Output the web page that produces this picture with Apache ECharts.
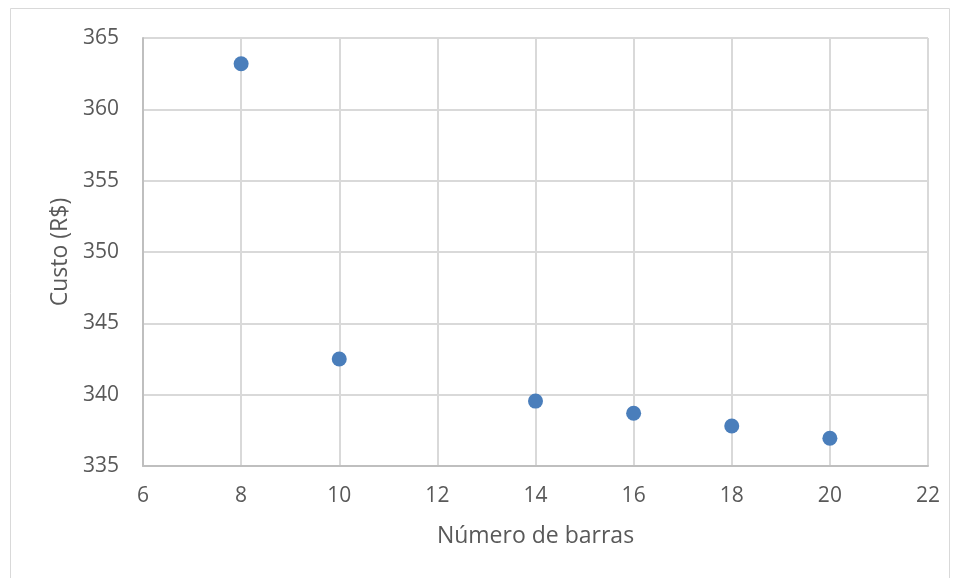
<!DOCTYPE html>
<html><head><meta charset="utf-8">
<script src="https://cdn.jsdelivr.net/npm/echarts@6/dist/echarts.min.js"></script>
<style>html,body{margin:0;padding:0;background:#fff}#c{width:958px;height:578px}</style>
</head><body><div id="c"></div>
<script>
const xValues = [8, 10, 14, 16, 18, 20];
const yValues = [363.2, 342.5, 339.55, 338.7, 337.8, 336.95];
const xTitle = 'Número de barras';
const yTitle = 'Custo (R$)';

const chart = echarts.init(document.getElementById('c'), null, {renderer: 'canvas'});
const font = '"Open Sans", "Liberation Sans", sans-serif';
chart.setOption({
  animation: false,
  backgroundColor: '#fff',
  graphic: [{type: 'rect', shape: {x: 10.5, y: 8.5, width: 939, height: 580}, style: {fill: 'none', stroke: '#d9d9d9', lineWidth: 1}, silent: true}],
  grid: {left: 143, right: 30, top: 38, bottom: 112},
  xAxis: {
    type: 'value', min: 6, max: 22, interval: 2,
    name: xTitle, nameLocation: 'middle', nameGap: 59,
    nameTextStyle: {fontFamily: font, fontSize: 23, color: '#595959'},
    axisLine: {show: true, lineStyle: {color: '#bfbfbf', width: 2}},
    axisTick: {show: false},
    axisLabel: {fontFamily: font, fontSize: 21, color: '#595959', margin: 20},
    splitLine: {show: true, lineStyle: {color: '#d9d9d9', width: 2}}
  },
  yAxis: {
    type: 'value', min: 335, max: 365, interval: 5,
    name: yTitle, nameLocation: 'middle', nameGap: 70,
    nameTextStyle: {fontFamily: font, fontSize: 23, color: '#595959'},
    axisLine: {show: true, lineStyle: {color: '#bfbfbf', width: 2}},
    axisTick: {show: false},
    axisLabel: {fontFamily: font, fontSize: 21, color: '#595959', margin: 24},
    splitLine: {show: true, lineStyle: {color: '#d9d9d9', width: 2}}
  },
  series: [{
    type: 'scatter', symbol: 'circle', symbolSize: 15,
    itemStyle: {color: '#4a7ebb', opacity: 1},
    data: xValues.map((x, i) => [x, yValues[i]])
  }]
});
</script></body></html>
